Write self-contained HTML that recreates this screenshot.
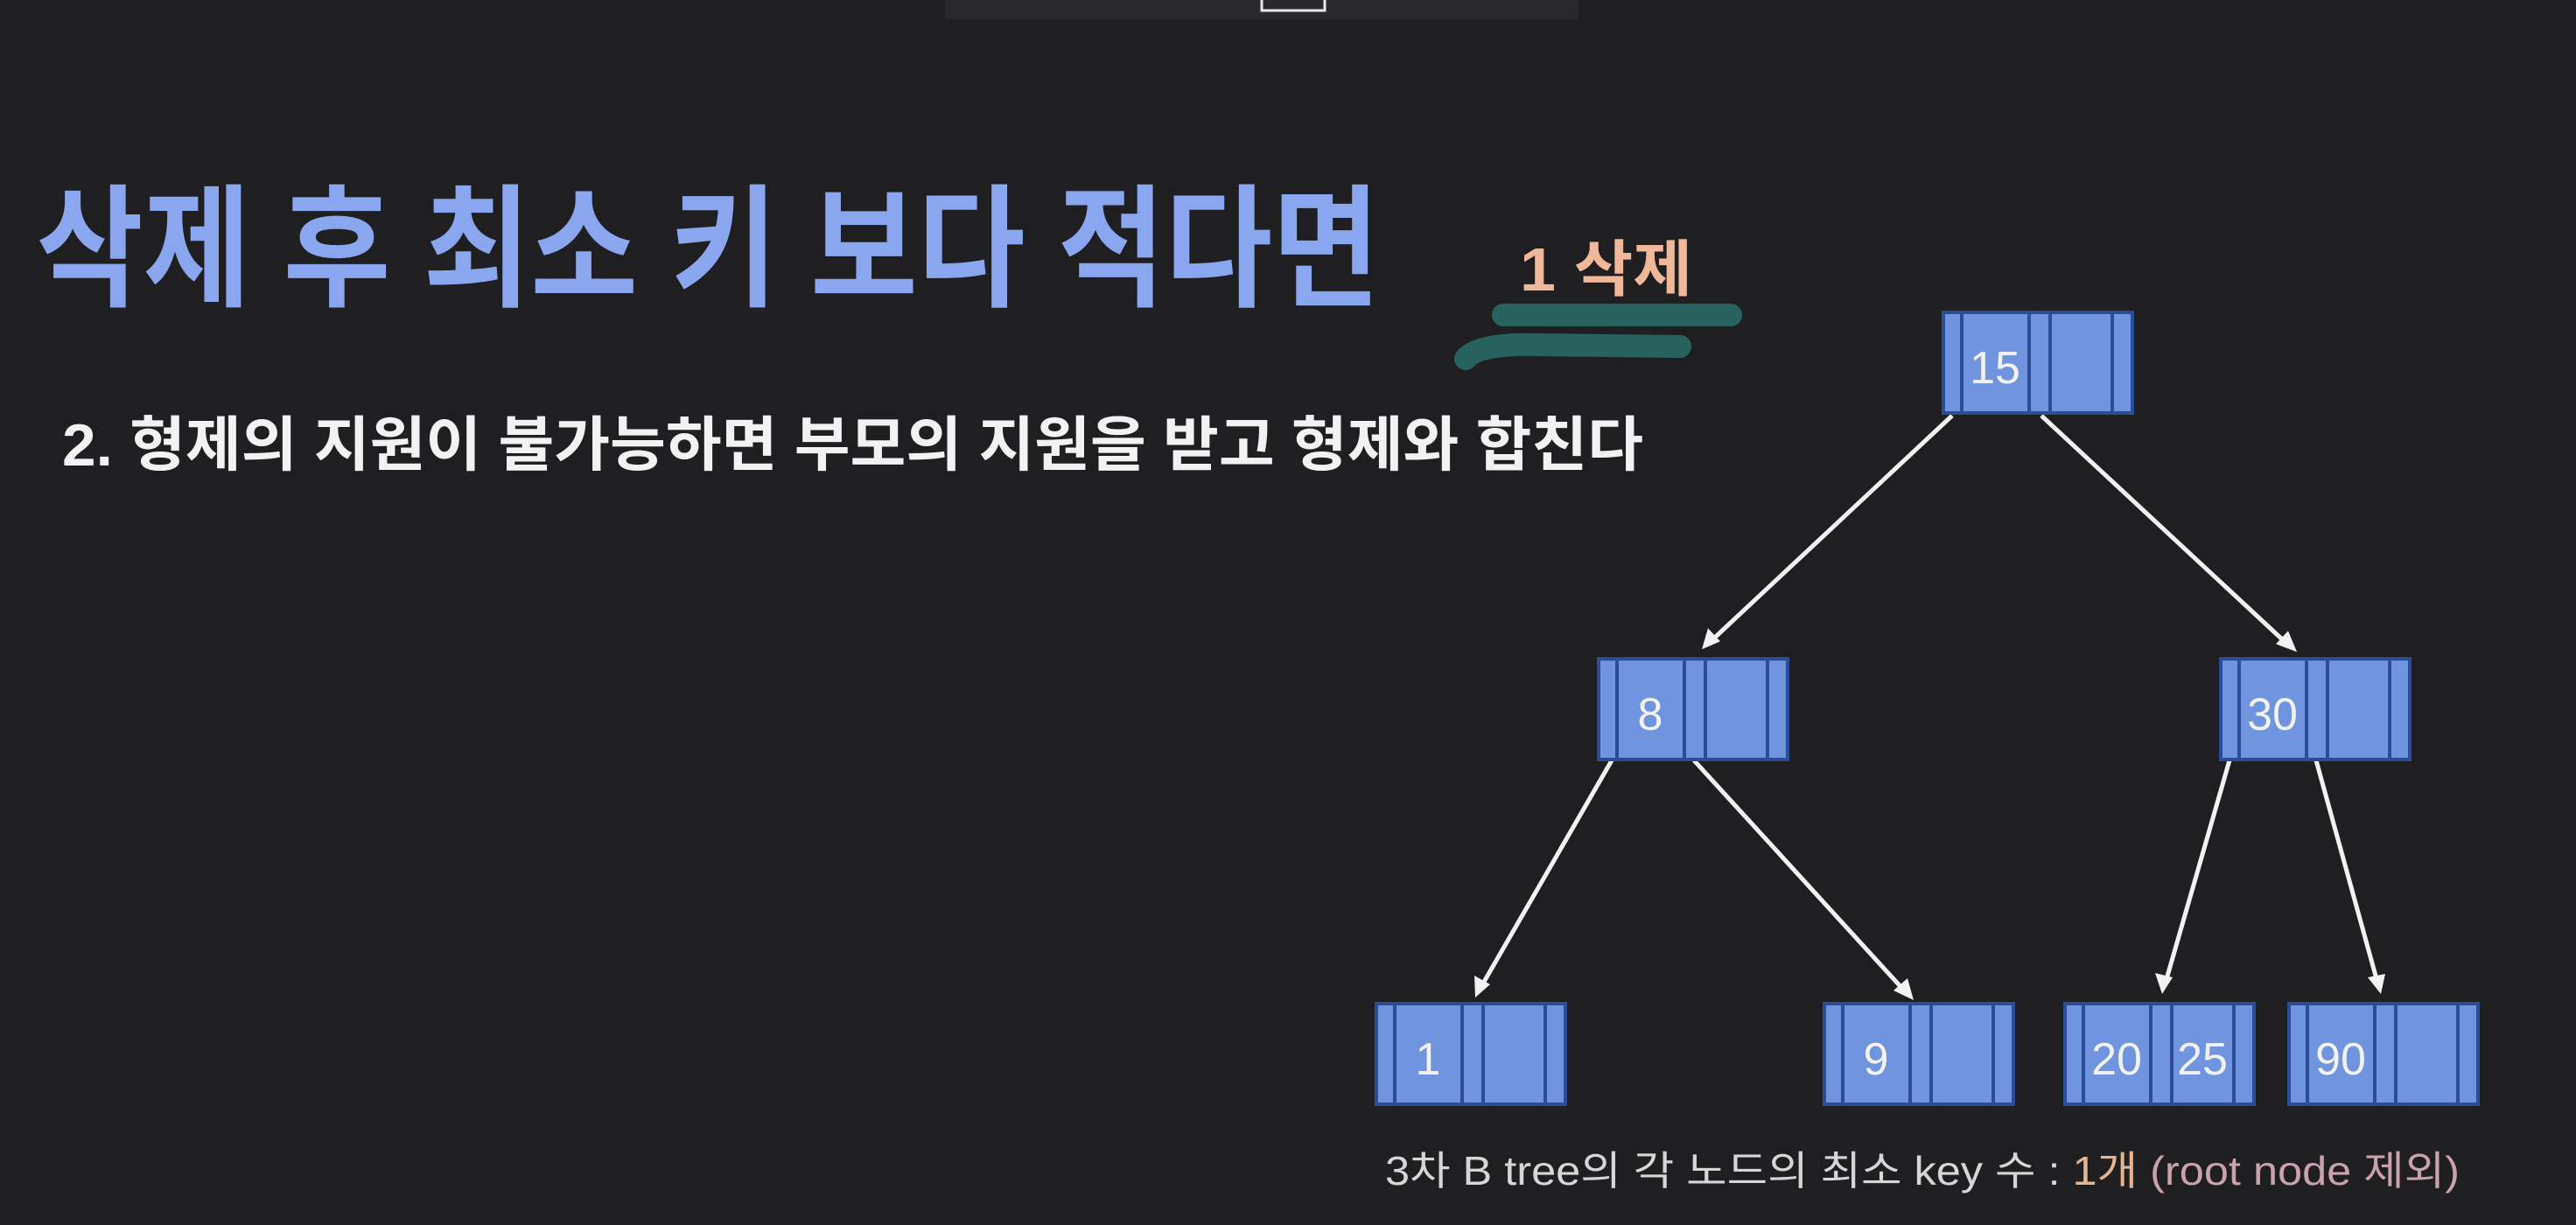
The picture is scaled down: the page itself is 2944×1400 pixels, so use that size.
<!DOCTYPE html>
<html><head><meta charset="utf-8"><style>
html,body{margin:0;padding:0;background:#1f1f21;}
svg{display:block}
text{font-family:"Liberation Sans","Noto Sans CJK KR",sans-serif;}
</style></head><body>
<svg width="2944" height="1400" viewBox="0 0 2944 1400" xmlns="http://www.w3.org/2000/svg">
<defs>
<g id="node">
<rect x="0" y="0" width="216" height="115" fill="#7094de" stroke="#2c4c98" stroke-width="4"/>
<line x1="21" y1="0" x2="21" y2="115" stroke="#2c4c98" stroke-width="4"/>
<line x1="98" y1="0" x2="98" y2="115" stroke="#2c4c98" stroke-width="4"/>
<line x1="122" y1="0" x2="122" y2="115" stroke="#2c4c98" stroke-width="4"/>
<line x1="193" y1="0" x2="193" y2="115" stroke="#2c4c98" stroke-width="4"/>
</g>
</defs>
<rect width="2944" height="1400" fill="#1f1f21"/>
<rect x="1080" y="0" width="724" height="22" fill="#29292b"/>
<rect x="1442" y="-4" width="72" height="16" fill="none" stroke="#e8e8e8" stroke-width="3"/>

<text x="41" y="338" font-size="152" font-weight="bold" fill="#8aa6ee" textLength="1536" lengthAdjust="spacingAndGlyphs">삭제 후 최소 키 보다 적다면</text>
<text x="71" y="532" font-size="68" font-weight="bold" fill="#f2f2f2" textLength="1807" lengthAdjust="spacingAndGlyphs">2. 형제의 지원이 불가능하면 부모의 지원을 받고 형제와 합친다</text>

<text x="1737" y="332" font-size="70" font-weight="bold" fill="#f0b89a" textLength="197" lengthAdjust="spacingAndGlyphs">1 삭제</text>
<path d="M1718 360 L1978 360" stroke="#28625f" stroke-width="26" stroke-linecap="round"/>
<path d="M1675 410 Q1690 392 1760 394 L1920 396" stroke="#28625f" stroke-width="26" stroke-linecap="round" fill="none"/>

<g stroke="#f2f2f2" stroke-width="5" fill="none">
<line x1="2231" y1="475" x2="1954" y2="734"/>
<line x1="2333" y1="475" x2="2615" y2="737"/>
<line x1="1842" y1="869" x2="1692" y2="1129"/>
<line x1="1936" y1="869" x2="2178" y2="1134"/>
<line x1="2548" y1="869" x2="2474" y2="1126"/>
<line x1="2647" y1="869" x2="2718" y2="1126"/>
</g>
<g fill="#f2f2f2">
<polygon points="1945,742 1952,718 1966,733"/>
<polygon points="2625,745 2601,736 2615,721"/>
<polygon points="1686,1140 1685,1115 1703,1125"/>
<polygon points="2187,1143 2164,1132 2180,1118"/>
<polygon points="2471,1136 2463,1112 2483,1117"/>
<polygon points="2721,1136 2706,1117 2726,1113"/>
</g>

<use href="#node" x="2221" y="357"/>
<use href="#node" x="1827" y="753"/>
<use href="#node" x="2538" y="753"/>
<use href="#node" x="1573" y="1147"/>
<use href="#node" x="2085" y="1147"/>
<use href="#node" x="2360" y="1147"/>
<use href="#node" x="2616" y="1147"/>

<g font-size="52" fill="#f2f2f2" text-anchor="middle">
<text x="2280" y="438">15</text>
<text x="1886" y="834">8</text>
<text x="2597" y="834">30</text>
<text x="1632" y="1228">1</text>
<text x="2144" y="1228">9</text>
<text x="2419" y="1228">20</text>
<text x="2517" y="1228">25</text>
<text x="2675" y="1228">90</text>
</g>

<text x="1583" y="1354" font-size="46" fill="#d6d6d6" textLength="1228" lengthAdjust="spacingAndGlyphs">3차 B tree의 각 노드의 최소 key 수 : <tspan fill="#e6b48e">1개</tspan> <tspan fill="#c9a2aa">(root node 제외)</tspan></text>
</svg>
</body></html>
